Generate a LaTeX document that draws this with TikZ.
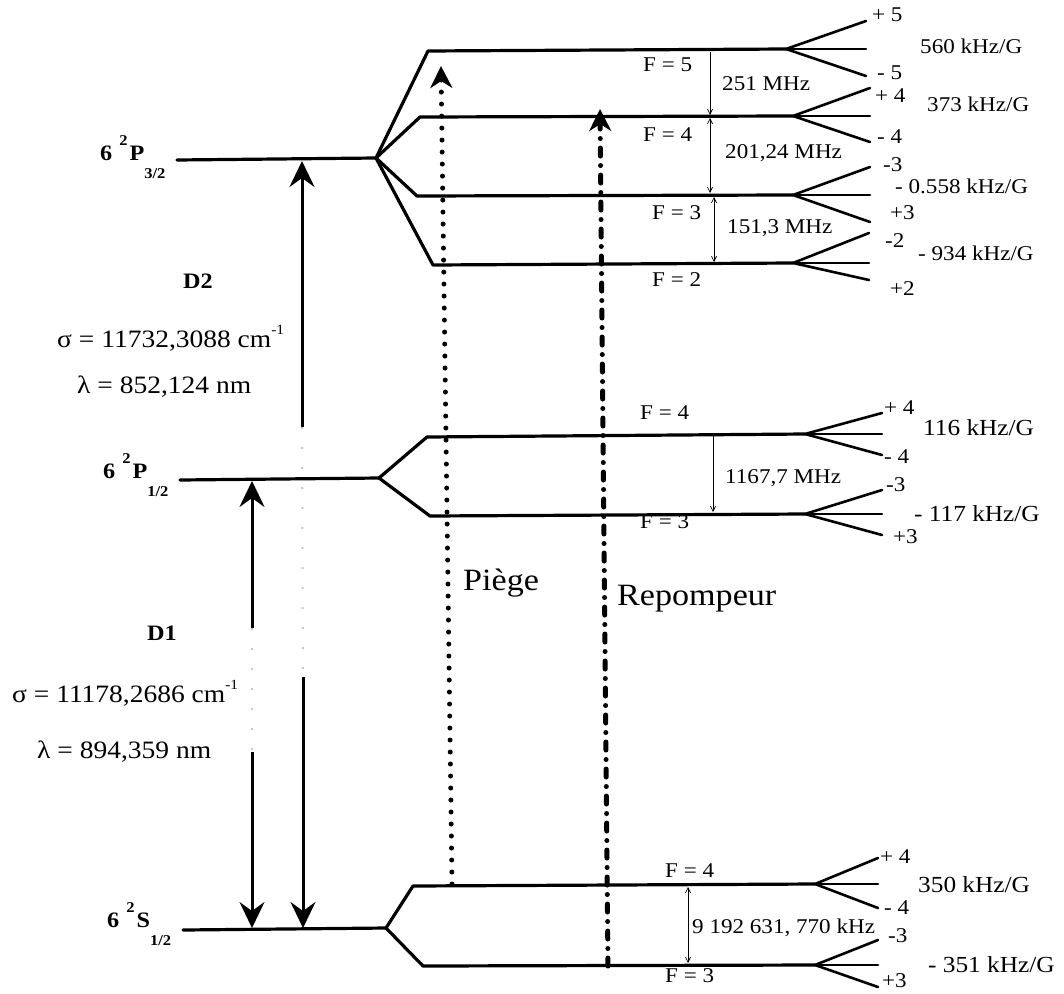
\documentclass[tikz,border=0pt]{standalone}
\usepackage{fontspec}
\setmainfont{Liberation Serif}[FakeStretch=1.1]
\usetikzlibrary{arrows.meta}
\begin{document}
\begin{tikzpicture}[x=1pt,y=-1pt,
  lvl/.style={line width=3.2pt, line cap=round, line join=round},
  fanl/.style={line width=2.6pt, line cap=round},
  sepone/.style={line width=0.7pt, -{Straight Barb[length=5pt,width=5pt]}},
  septwo/.style={line width=0.7pt, {Straight Barb[length=5pt,width=5pt]}-{Straight Barb[length=5pt,width=5pt]}},
  dline/.style={line width=3pt, -{Stealth[length=26pt,width=25pt,inset=9pt]}},
  faintl/.style={line width=2pt, black!22, dash pattern=on 2pt off 18pt},
  piege/.style={line width=5pt, line cap=round, dash pattern=on 0pt off 12pt, -{Stealth[length=22pt,width=22pt,inset=7pt]}},
  repomp/.style={line width=5pt, line cap=round, dash pattern=on 8pt off 9.5pt on 0pt off 9.5pt, -{Stealth[length=22pt,width=22pt,inset=7pt]}},
  sl/.style={font=\fontsize{21}{23}\selectfont, inner sep=0pt, anchor=west},
  kl/.style={font=\fontsize{23}{25}\selectfont, inner sep=0pt, anchor=west},
  bl/.style={font=\fontsize{25}{28}\selectfont, inner sep=0pt, anchor=base west},
  tl/.style={font=\fontsize{22}{24}\selectfont\bfseries, inner sep=0pt, anchor=base west},
  ll/.style={font=\fontsize{31}{33}\selectfont, inner sep=0pt, anchor=west},
]
\useasboundingbox (0,0) rectangle (1064,993);

% ---------- 6 2P3/2 ----------
\coordinate (p3L) at (177,160); \coordinate (p3V) at (376,158);
\coordinate (f5s) at (428,51);  \coordinate (f5v) at (786,49);
\coordinate (f5a) at (866,21);  \coordinate (f5b) at (866,49);  \coordinate (f5c) at (866,76);
\coordinate (f4s) at (420,117); \coordinate (f4v) at (793,116);
\coordinate (f4a) at (870,88);  \coordinate (f4b) at (870,116); \coordinate (f4c) at (870,142);
\coordinate (f3s) at (417,196); \coordinate (f3v) at (793,195);
\coordinate (f3a) at (870,167); \coordinate (f3b) at (870,195); \coordinate (f3c) at (870,222);
\coordinate (f2s) at (433,265); \coordinate (f2v) at (793,263);
\coordinate (f2a) at (869,233); \coordinate (f2b) at (869,263); \coordinate (f2c) at (869,280);

\draw[lvl] (p3L) -- (p3V);
\draw[lvl] (p3V) -- (f5s) -- (f5v);
\draw[lvl] (p3V) -- (f4s) -- (f4v);
\draw[lvl] (p3V) -- (f3s) -- (f3v);
\draw[lvl] (p3V) -- (f2s) -- (f2v);
\foreach \f in {f5,f4,f3,f2}{
  \draw[fanl] (\f v) -- (\f a); \draw[fanl] (\f v) -- (\f b); \draw[fanl] (\f v) -- (\f c);
}

% ---------- 6 2P1/2 ----------
\coordinate (p1L) at (180,480); \coordinate (p1V) at (379,478);
\coordinate (g4s) at (427,437); \coordinate (g4v) at (805,434);
\coordinate (g4a) at (882,413); \coordinate (g4b) at (882,434); \coordinate (g4c) at (882,455);
\coordinate (g3s) at (430,516); \coordinate (g3v) at (805,514);
\coordinate (g3a) at (882,490); \coordinate (g3b) at (882,514); \coordinate (g3c) at (882,535);
\draw[lvl] (p1L) -- (p1V);
\draw[lvl] (p1V) -- (g4s) -- (g4v);
\draw[lvl] (p1V) -- (g3s) -- (g3v);
\foreach \f in {g4,g3}{
  \draw[fanl] (\f v) -- (\f a); \draw[fanl] (\f v) -- (\f b); \draw[fanl] (\f v) -- (\f c);
}

% ---------- 6 2S1/2 ----------
\coordinate (sL) at (183,930); \coordinate (sV) at (386,928);
\coordinate (h4s) at (413,886); \coordinate (h4v) at (815,884);
\coordinate (h4a) at (878,858); \coordinate (h4b) at (878,884); \coordinate (h4c) at (878,908);
\coordinate (h3s) at (423,966); \coordinate (h3v) at (815,965);
\coordinate (h3a) at (878,940); \coordinate (h3b) at (878,965); \coordinate (h3c) at (878,987);
\draw[lvl] (sL) -- (sV);
\draw[lvl] (sV) -- (h4s) -- (h4v);
\draw[lvl] (sV) -- (h3s) -- (h3v);
\foreach \f in {h4,h3}{
  \draw[fanl] (\f v) -- (\f a); \draw[fanl] (\f v) -- (\f b); \draw[fanl] (\f v) -- (\f c);
}

% ---------- term labels ----------
\node[tl] (tP3) at (100,160) {6\hspace{7pt}\raisebox{15pt}{\fontsize{15}{15}\selectfont 2}\hspace{2pt}P\raisebox{-18pt}{\fontsize{15}{15}\selectfont 3/2}};
\node[tl] (tP1) at (103,478) {6\hspace{7pt}\raisebox{15pt}{\fontsize{15}{15}\selectfont 2}\hspace{2pt}P\raisebox{-18pt}{\fontsize{15}{15}\selectfont 1/2}};
\node[tl] (tS)  at (107,927) {6\hspace{7pt}\raisebox{15pt}{\fontsize{15}{15}\selectfont 2}\hspace{2pt}S\raisebox{-18pt}{\fontsize{15}{15}\selectfont 1/2}};

% ---------- D2 / D1 ----------
\node[tl] (d2) at (183,288) {D2};
\node[bl] (sig2) at (57,347) {σ = 11732,3088 cm\raisebox{13pt}{\fontsize{14}{14}\selectfont -1}};
\node[bl] (lam2) at (77,393) {λ = 852,124 nm};
\node[tl] (d1) at (147,640) {D1};
\node[bl] (sig1) at (12,702) {σ = 11178,2686 cm\raisebox{13pt}{\fontsize{14}{14}\selectfont -1}};
\node[bl] (lam1) at (37,758) {λ = 894,359 nm};

% D2 transition (x ~ 302)
\coordinate (d2top) at (302,161); \coordinate (d2m1) at (302,427);
\coordinate (d2m2) at (303,677);  \coordinate (d2bot) at (303,928);
\draw[dline] (d2m1) -- (d2top);
\draw[faintl] (d2m1) -- (d2m2);
\draw[dline] (d2m2) -- (d2bot);
% D1 transition (x ~ 252)
\coordinate (d1top) at (252,481); \coordinate (d1m1) at (252,628);
\coordinate (d1m2) at (252,752);  \coordinate (d1bot) at (252,928);
\draw[dline] (d1m1) -- (d1top);
\draw[faintl] (d1m1) -- (d1m2);
\draw[dline] (d1m2) -- (d1bot);

% ---------- hyperfine separations ----------
\coordinate (a1) at (710,52);  \coordinate (a2) at (710,115);
\coordinate (b1) at (710,118); \coordinate (b2) at (710,193);
\coordinate (c1) at (714,197); \coordinate (c2) at (714,262);
\coordinate (e1) at (713,436); \coordinate (e2) at (713,512);
\coordinate (k1) at (688,887); \coordinate (k2) at (688,963);
\draw[sepone] (a1) -- (a2);
\draw[septwo] (b1) -- (b2);
\draw[septwo] (c1) -- (c2);
\draw[sepone] (e1) -- (e2);
\draw[septwo] (k1) -- (k2);
\node[sl] (s251) at (722,84) {251 MHz};
\node[sl] (s201) at (725,153) {201,24 MHz};
\node[sl] (s151) at (727,228) {151,3 MHz};
\node[sl] (s1167) at (725,478) {1167,7 MHz};
\node[sl] (s9192) at (692,928) {9 192 631, 770 kHz};

% ---------- F labels ----------
\node[sl] (F5) at (643,65) {F = 5};
\node[sl] (F4) at (643,135) {F = 4};
\node[sl] (F3) at (652,213) {F = 3};
\node[sl] (F2) at (652,280) {F = 2};
\node[sl] (G4) at (640,413) {F = 4};
\node[sl] (G3) at (640,522) {F = 3};
\node[sl] (H4) at (665,871) {F = 4};
\node[sl] (H3) at (665,976) {F = 3};

% ---------- Zeeman labels ----------
\node[sl] (m5p) at (872,15) {+ 5};
\node[sl] (z5)  at (920,46) {560 kHz/G};
\node[sl] (m5m) at (877,73) {- 5};
\node[sl] (m4p) at (875,96) {+ 4};
\node[sl] (z4)  at (927,104) {373 kHz/G};
\node[sl] (m4m) at (877,137) {- 4};
\node[sl] (m3m) at (883,165) {-3};
\node[sl] (z3)  at (895,186) {- 0.558 kHz/G};
\node[sl] (m3p) at (890,213) {+3};
\node[sl] (m2m) at (885,241) {-2};
\node[sl] (z2)  at (918,253) {- 934 kHz/G};
\node[sl] (m2p) at (890,289) {+2};

\node[sl] (n4p) at (884,408) {+ 4};
\node[kl] (y4)  at (923,428) {116 kHz/G};
\node[sl] (n4m) at (884,457) {- 4};
\node[sl] (n3m) at (886,485) {-3};
\node[kl] (y3)  at (914,514) {- 117 kHz/G};
\node[sl] (n3p) at (893,537) {+3};

\node[sl] (o4p) at (880,857) {+ 4};
\node[kl] (x4)  at (918,885) {350 kHz/G};
\node[sl] (o4m) at (884,908) {- 4};
\node[sl] (o3m) at (888,936) {-3};
\node[kl] (x3)  at (928,965) {- 351 kHz/G};
\node[sl] (o3p) at (882,981) {+3};

% ---------- laser beams ----------
\coordinate (pgb) at (452,884); \coordinate (pgt) at (441,66);
\coordinate (rpb) at (608,966); \coordinate (rpt) at (600,109);
\draw[piege] (pgb) -- (pgt);
\draw[repomp] (rpb) -- (rpt);
\node[ll] (lpiege) at (463,583) {Piège};
\node[ll] (lrep) at (617,599) {Repompeur};
\end{tikzpicture}
\end{document}
